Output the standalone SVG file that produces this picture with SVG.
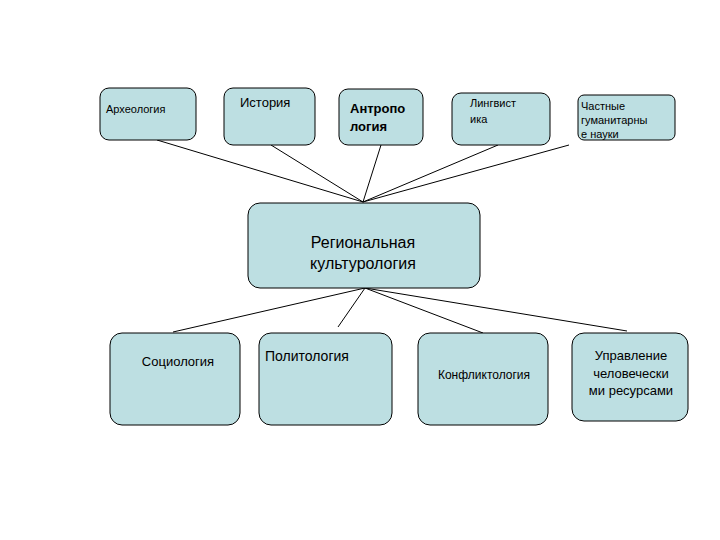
<svg xmlns="http://www.w3.org/2000/svg" width="720" height="540" viewBox="0 0 720 540">
<style>
.n rect{fill:#bddfe2;stroke:#000;stroke-width:1}
text{font-family:"Liberation Sans",Arial,sans-serif;fill:#000}
.c line{stroke:#000;stroke-width:1}
</style>
<rect width="720" height="540" fill="#fff"/>
<g class="c">
<line x1="157" y1="140" x2="363" y2="202"/>
<line x1="271" y1="145" x2="363" y2="202"/>
<line x1="381" y1="145" x2="363" y2="202"/>
<line x1="498" y1="145" x2="363" y2="202"/>
<line x1="569" y1="145" x2="363" y2="202"/>
<line x1="365" y1="288" x2="173" y2="332"/>
<line x1="365" y1="288" x2="338" y2="327"/>
<line x1="365" y1="288" x2="483" y2="333"/>
<line x1="365" y1="288" x2="627" y2="331"/>
</g>
<g class="n" id="n1"><rect x="100" y="88" width="96" height="52" rx="9"/><text x="106" y="113" font-size="11">Археология</text></g>
<g class="n" id="n2"><rect x="224" y="88" width="91" height="57" rx="9"/><text x="240" y="107" font-size="13">История</text></g>
<g class="n" id="n3"><rect x="339" y="89" width="84" height="56" rx="9"/><text x="350" y="113" font-size="13" font-weight="bold">Антропо</text><text x="350" y="131" font-size="13" font-weight="bold">логия</text></g>
<g class="n" id="n4"><rect x="452" y="93" width="98" height="52" rx="9"/><text x="470" y="107" font-size="11">Лингвист</text><text x="470" y="123" font-size="11">ика</text></g>
<g class="n" id="n5"><rect x="578" y="95" width="97" height="45" rx="6"/><text x="581" y="110" font-size="11">Частные</text><text x="581" y="124" font-size="11">гуманитарны</text><text x="581" y="138" font-size="11">е науки</text></g>
<g class="n" id="n6"><rect x="248" y="203" width="232" height="85" rx="12"/><text x="363" y="248" font-size="16" text-anchor="middle">Региональная</text><text x="363" y="269" font-size="16" text-anchor="middle">культурология</text></g>
<g class="n" id="n7"><rect x="110" y="333" width="130" height="92" rx="12"/><text x="178" y="366" font-size="13" text-anchor="middle">Социология</text></g>
<g class="n" id="n8"><rect x="259" y="333" width="133" height="92" rx="12"/><text x="265" y="361" font-size="14">Политология</text></g>
<g class="n" id="n9"><rect x="418" y="333" width="130" height="92" rx="12"/><text x="484" y="379" font-size="12" text-anchor="middle">Конфликтология</text></g>
<g class="n" id="n10"><rect x="572" y="333" width="116" height="88" rx="12"/><text x="631" y="360" font-size="13" text-anchor="middle">Управление</text><text x="631" y="378" font-size="13" text-anchor="middle">человечески</text><text x="631" y="395" font-size="13" text-anchor="middle">ми ресурсами</text></g>
</svg>
